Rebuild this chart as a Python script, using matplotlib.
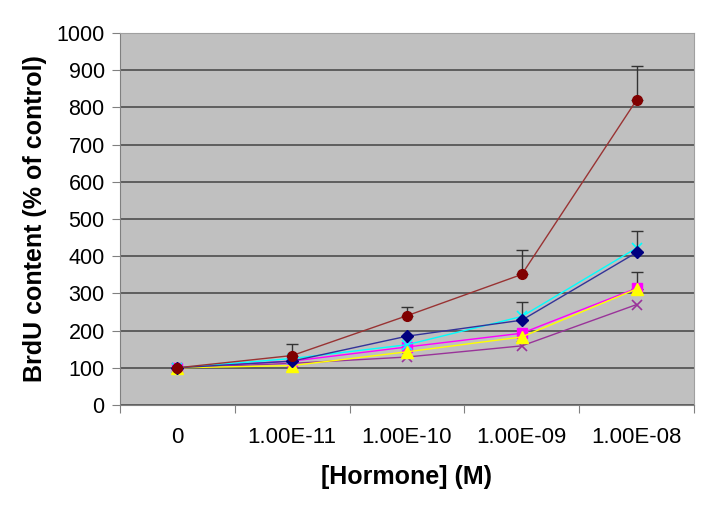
import matplotlib.pyplot as plt
import numpy as np

plt.rcParams['font.family'] = ['Liberation Sans', 'DejaVu Sans']

doses = ['0', '1.00E-11', '1.00E-10', '1.00E-09', '1.00E-08']

# series values (% of control)
red = [100, 133, 240, 351, 820]
red_err = [0, 31, 23, 65, 90]
navy = [100, 118, 185, 228, 410]
navy_err = [0, 0, 0, 48, 59]
cyan = [100, 125, 162, 238, 422]
magenta = [100, 118, 156, 193, 314]
yellow = [100, 106, 143, 183, 312]
yellow_err = [0, 0, 0, 0, 45]
purple = [100, 112, 129, 159, 270]

x = np.arange(len(doses))

fig = plt.figure(figsize=(7.24, 5.05), dpi=100)
ax = fig.add_axes([0.1657, 0.198, 0.7929, 0.7367])
ax.set_facecolor('#c0c0c0')

ax.plot(x, purple, color='#993399', lw=1, marker='x', ms=7, mew=1.2, mec='#993399', zorder=3)
ax.plot(x, yellow, color='#ffff00', lw=1, marker='^', ms=8, mfc='#ffff00', mec='#ffff00', zorder=4)
ax.plot(x, magenta, color='#ff00ff', lw=1, marker='s', ms=7, mfc='#ff00ff', mec='#ff00ff', zorder=3)
ax.plot(x, cyan, color='#00ffff', lw=1, marker='x', ms=7, mew=1.2, mec='#00ffff', zorder=3)
ax.plot(x, navy, color='#333399', lw=1, marker='D', ms=6, mfc='#000080', mec='#000080', zorder=5)
ax.plot(x, red, color='#993333', lw=1, marker='o', ms=7, mfc='#800000', mec='#800000', zorder=5)

# upward-only error bars
for vals, errs in [(red, red_err), (navy, navy_err), (yellow, yellow_err)]:
    e = np.array(errs)
    m = e > 0
    ax.errorbar(x[m], np.array(vals)[m], yerr=[np.zeros(m.sum()), e[m]],
                fmt='none', ecolor='#333333', elinewidth=1, capsize=4, capthick=1, zorder=2)

ax.set_ylim(0, 1000)
ax.set_yticks(np.arange(0, 1001, 100))
ax.yaxis.grid(True, color='#4d4d4d', lw=1.2)
ax.set_axisbelow(True)

ax.set_xlim(-0.5, 4.5)
ax.set_xticks(np.arange(-0.5, 4.6, 1))
ax.set_xticklabels([])
ax.set_xticks(x, minor=True)
ax.set_xticklabels(doses, minor=True)
ax.tick_params(axis='x', which='minor', length=0, pad=16, labelsize=16)
ax.tick_params(axis='x', which='major', length=6, color='#808080', direction='out')
ax.tick_params(axis='y', length=6, color='#808080', labelsize=15.5, pad=5)

for s in ['top', 'right']:
    ax.spines[s].set_color('#a0a0a0')
for s in ['left', 'bottom']:
    ax.spines[s].set_color('#808080')

ax.set_xlabel('[Hormone] (M)', fontsize=18, fontweight='bold', labelpad=12)
ax.set_ylabel('BrdU content (% of control)', fontsize=18, fontweight='bold', labelpad=7)

fig.savefig('out.png', dpi=100)
